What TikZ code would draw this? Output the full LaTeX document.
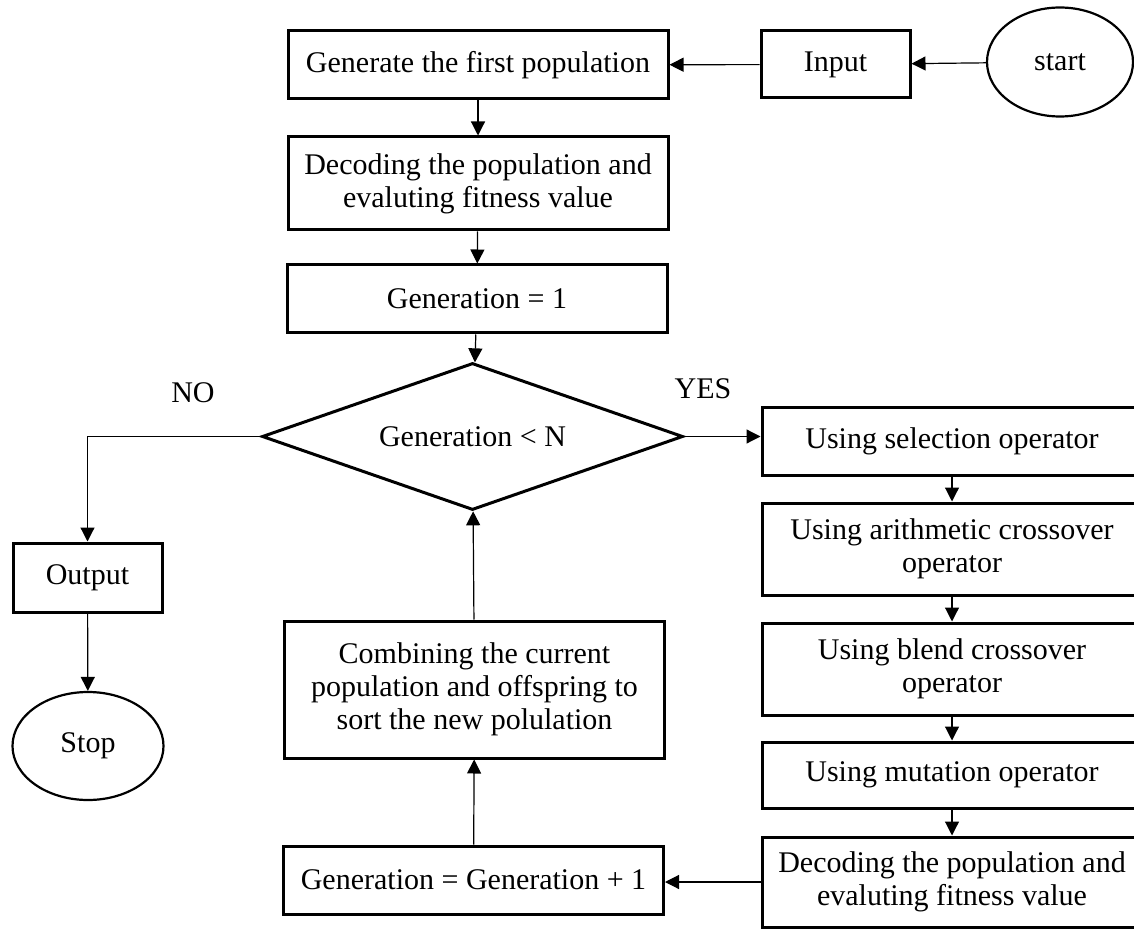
\documentclass[tikz,border=0pt]{standalone}
\usepackage{fontspec}
\setmainfont{Liberation Serif}
\usepackage{tikz}
\usetikzlibrary{shapes.geometric}
\usetikzlibrary{arrows.meta}
\tikzset{
	box node/.style={rectangle,draw,line width=1.5pt,align=center,minimum width=190pt,inner sep=0pt},
	end node/.style={ellipse,draw,line width=1.1pt,inner sep=0pt},
	test node/.style={diamond,draw,line width=1.5pt,inner sep=0pt,aspect=2.86,
		minimum width=210.5pt,minimum height=73.5pt},
	label node/.style={inner sep=0pt}
}

\begin{document}
\begin{tikzpicture}[->,>={Triangle[length=7pt,width=7pt]},line width=0.6pt,
	    x=0.5pt,y=-0.5pt,font=\fontsize{15}{16.5}\selectfont]
	    \useasboundingbox (0,0) rectangle (1134,930);
	    % main column
	    \node [end node,minimum width=73pt,minimum height=54.5pt] (1) at (1060,62) {start};
	    \node [box node,minimum width=74.5pt,minimum height=33.5pt] (2) at (835.5,64.5) {Input};
	    \node [box node,minimum height=34pt] (3) at (478,65) {Generate the first population};
	    \node [box node,minimum height=46.5pt] (4) at (478,183.5) {Decoding the population and\\evaluting fitness value};
	    \node [box node,minimum height=34pt] (5) at (477,299) {Generation = 1};
	    \node [test node] (6) at (472.5,436.5) {Generation < N};
	    \node [label node] (7) at (193,393) {NO};
	    \node [label node] (8) at (703,389) {YES};
	    % operators
	    \node [box node,minimum height=34pt] (9) at (952,441) {Using selection operator};
	    \node [box node,minimum height=46pt] (10) at (952,549) {Using arithmetic crossover\\operator};
	    \node [box node,minimum height=46pt] (11) at (952,669) {Using blend crossover\\operator};
	    \node [box node,minimum height=33pt] (12) at (952,775) {Using mutation operator};
	    \node [box node,minimum height=45pt] (13) at (952,882) {Decoding the population and\\evaluting fitness value};
	    % loop back
	    \node [box node,minimum height=34pt] (14) at (473.5,880) {Generation = Generation + 1};
	    \node [box node,minimum height=68.5pt] (15) at (474.5,689.5) {Combining the current\\population and offspring to\\sort the new polulation};
	    % exit
	    \node [box node,minimum width=74.5pt,minimum height=34.5pt] (16) at (87.5,577.5) {Output};
	    \node [end node,minimum width=75.5pt,minimum height=54pt] (17) at (88,746) {Stop};

	    \draw (1) -- (2);
	    \draw (2) -- (3);
	    \draw (3) -- (4);
	    \draw (4) -- (5);
	    \draw (5) -- (6);
	    \draw (6.east) -- (6.east -| 9.west);
	    \draw (6.west) -| (16.north);
	    \draw (16) -- (17);
	    \draw (9) -- (10);
	    \draw (10) -- (11);
	    \draw (11) -- (12);
	    \draw (12) -- (13);
	    \draw (13.west) -- (13.west -| 14.east);
	    \draw (14) -- (15);
	    \draw (15) -- (6);
	  \end{tikzpicture}
\end{document}
